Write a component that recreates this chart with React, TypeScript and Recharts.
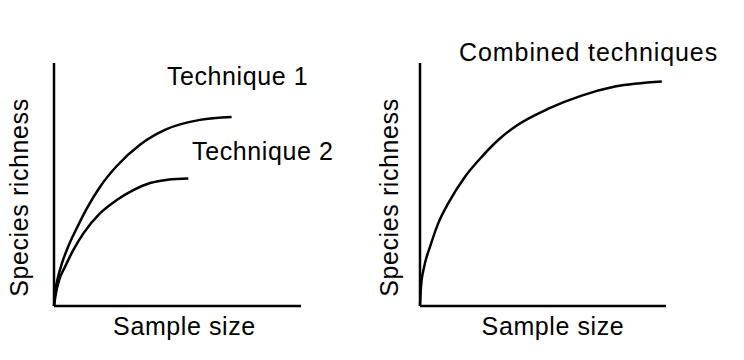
import { LineChart, Line, XAxis, YAxis, ReferenceDot, Label } from "recharts";

// values, both axes scaled 0-100
const tech1X = [0, 0.4, 1.3, 3.1, 5.8, 9.2, 13.2, 18.6, 25.4, 34.8, 45.6, 59.1, 71.9];
const tech1Y = [0, 5.3, 10.5, 17.2, 24.6, 32.0, 40.0, 49.0, 57.6, 66.4, 72.8, 76.6, 77.8];

const tech2X = [0, 0.8, 2.1, 4.5, 7.8, 11.9, 18.6, 25.4, 32.1, 38.9, 46.0, 54.4];
const tech2Y = [0, 5.3, 10.7, 16.2, 23.0, 29.9, 38.1, 43.6, 47.7, 50.6, 52.0, 52.5];

const combinedX = [0, 0.4, 1.7, 4.1, 7.4, 11.5, 18.3, 25.1, 31.8, 38.6, 52.2, 65.7, 79.3, 98.3];
const combinedY = [0, 7.9, 16.2, 24.4, 34.0, 42.3, 53.2, 61.4, 68.3, 73.8, 81.2, 86.6, 90.3, 92.4];

const zip = (xs: number[], ys: number[]) => xs.map((x, i) => ({ x, y: ys[i] }));

const FONT = "'Liberation Sans', Arial, sans-serif";
const textStyle = { fontFamily: FONT, fontSize: 25, letterSpacing: 0.6, fill: "#000" };

const YTitle = ({ viewBox, gap }: any) => {
  const x = viewBox.x + viewBox.width - gap;
  const y = viewBox.y + viewBox.height / 2 + 13;
  return (
    <text x={x} y={y} textAnchor="middle" transform={`rotate(-90, ${x}, ${y})`} style={textStyle}>
      Species richness
    </text>
  );
};

const XTitle = ({ viewBox, shift }: any) => (
  <text x={viewBox.x + viewBox.width / 2 + shift} y={viewBox.y + 29} textAnchor="middle" style={textStyle}>
    Sample size
  </text>
);

const Tag = ({ viewBox, text, spacing = 0.6 }: any) => (
  <text x={viewBox.x} y={viewBox.y} textAnchor="start" style={{ ...textStyle, letterSpacing: spacing }}>
    {text}
  </text>
);

const axisLine = { stroke: "#000", strokeWidth: 2.5 };

function Panel({ left, margin, gap, shift, children }: any) {
  return (
    <div style={{ position: "absolute", left, top: 0 }}>
      <LineChart width={372} height={360} margin={margin}>
        <XAxis type="number" dataKey="x" domain={[0, 100]} tick={false} tickLine={false} axisLine={axisLine} height={30}>
          <Label content={<XTitle shift={shift} />} />
        </XAxis>
        <YAxis type="number" dataKey="y" domain={[0, 100]} tick={false} tickLine={false} axisLine={axisLine} width={40}>
          <Label content={<YTitle gap={gap} />} />
        </YAxis>
        {children}
      </LineChart>
    </div>
  );
}

export default function App() {
  return (
    <div style={{ position: "absolute", left: 0, top: 0, width: 744, height: 360, background: "#fff" }}>
      <Panel left={0} margin={{ top: 63, right: 71, bottom: 24, left: 14 }} gap={26} shift={7}>
        <Line data={zip(tech1X, tech1Y)} dataKey="y" type="monotone" stroke="#000" strokeWidth={2.5} dot={false} isAnimationActive={false} />
        <Line data={zip(tech2X, tech2Y)} dataKey="y" type="monotone" stroke="#000" strokeWidth={2.5} dot={false} isAnimationActive={false} />
        <ReferenceDot x={45.7} y={90.9} r={0} ifOverflow="visible" label={<Tag text="Technique 1" />} />
        <ReferenceDot x={55.9} y={60.1} r={0} ifOverflow="visible" label={<Tag text="Technique 2" />} />
      </Panel>
      <Panel left={372} margin={{ top: 63, right: 78, bottom: 24, left: 8 }} gap={22} shift={10}>
        <Line data={zip(combinedX, combinedY)} dataKey="y" type="monotone" stroke="#000" strokeWidth={2.5} dot={false} isAnimationActive={false} />
        <ReferenceDot x={15.9} y={100.8} r={0} ifOverflow="visible" label={<Tag text="Combined techniques" spacing={0.9} />} />
      </Panel>
    </div>
  );
}
